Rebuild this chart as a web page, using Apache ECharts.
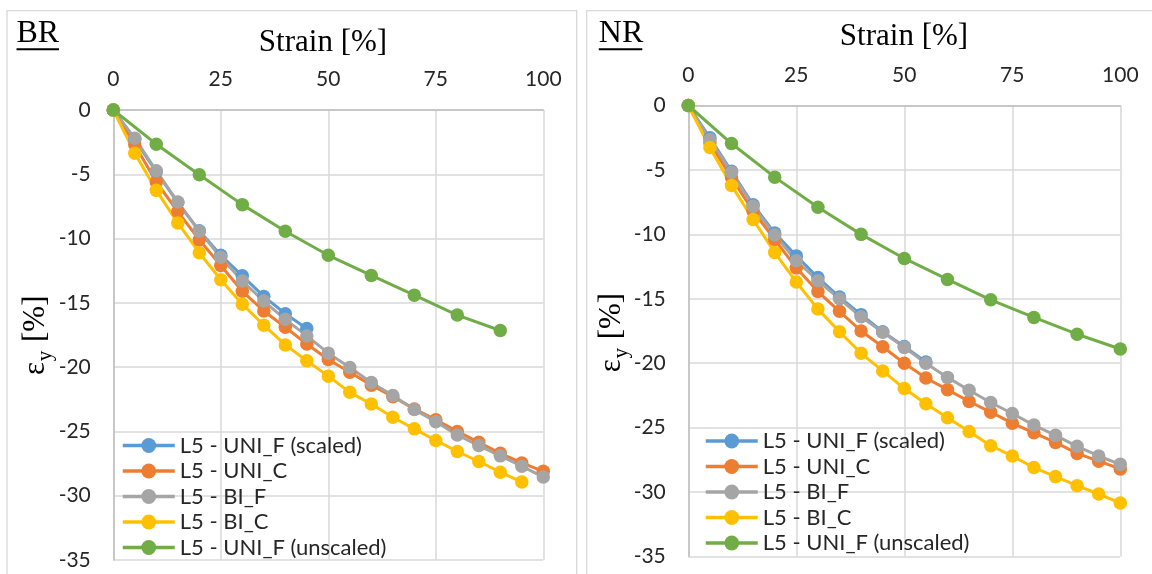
<!DOCTYPE html>
<html>
<head>
<meta charset="utf-8">
<title>Lateral strain vs. applied strain</title>
<script src="https://cdn.jsdelivr.net/npm/echarts@6/dist/echarts.min.js"></script>
<style>
  html, body { margin: 0; padding: 0; background: #ffffff; }
  #chart { width: 1152px; height: 574px; }
</style>
</head>
<body>
<div id="chart"></div>
<script>
// Applied strain [%] sampling
const strainFine = [0, 5, 10, 15, 20, 25, 30, 35, 40, 45, 50, 55, 60, 65, 70, 75, 80, 85, 90, 95, 100];
const strainCoarse = [0, 10, 20, 30, 40, 50, 60, 70, 80, 90, 100];

const xTicks = [0, 25, 50, 75, 100];
const yTicks = [0, -5, -10, -15, -20, -25, -30, -35];

const seriesNames = ['L5 - UNI_F (scaled)', 'L5 - UNI_C', 'L5 - BI_F', 'L5 - BI_C', 'L5 - UNI_F (unscaled)'];
const seriesColors = ['#5B9BD5', '#ED7D31', '#A5A5A5', '#FFC000', '#70AD47'];
// the unscaled UNI_F curve is sampled every 10 %, all others every 5 %
const seriesStrain = [strainFine, strainFine, strainFine, strainFine, strainCoarse];

// BR : lateral strain eps_y [%]
const brUniFScaled = [0, -2.3, -4.8, -7.2, -9.4, -11.3, -12.9, -14.5, -15.85, -17.0];
const brUniC = [0, -2.7, -5.6, -7.9, -10.1, -12.1, -14.1, -15.63, -16.9, -18.2, -19.4, -20.4, -21.4, -22.3, -23.25, -24.1, -25.0, -25.85, -26.7, -27.45, -28.1];
const brBiF = [0, -2.2, -4.73, -7.16, -9.43, -11.45, -13.3, -14.86, -16.28, -17.57, -18.91, -20.03, -21.19, -22.2, -23.3, -24.24, -25.27, -26.1, -26.9, -27.7, -28.55];
const brBiC = [0, -3.36, -6.25, -8.78, -11.1, -13.2, -15.1, -16.74, -18.27, -19.5, -20.7, -21.96, -22.87, -23.9, -24.8, -25.7, -26.56, -27.34, -28.17, -28.94];
const brUniFUnscaled = [0, -2.66, -5.04, -7.36, -9.43, -11.3, -12.87, -14.4, -15.95, -17.15];

// NR : lateral strain eps_y [%]
const nrUniFScaled = [0, -2.5, -5.1, -7.7, -9.9, -11.67, -13.35, -14.87, -16.23, -17.56, -18.7, -19.9];
const nrUniC = [0, -2.9, -5.6, -8.2, -10.4, -12.6, -14.44, -15.97, -17.5, -18.72, -20.0, -21.15, -22.05, -22.97, -23.8, -24.65, -25.4, -26.15, -27.0, -27.6, -28.2];
const nrBiF = [0, -2.64, -5.18, -7.82, -10.05, -12.05, -13.6, -15.0, -16.4, -17.6, -18.77, -20.0, -21.1, -22.1, -23.05, -23.9, -24.8, -25.6, -26.45, -27.2, -27.85];
const nrBiC = [0, -3.26, -6.2, -8.85, -11.4, -13.7, -15.8, -17.56, -19.23, -20.6, -21.97, -23.15, -24.23, -25.3, -26.4, -27.2, -28.1, -28.8, -29.5, -30.15, -30.85];
const nrUniFUnscaled = [0, -2.95, -5.56, -7.9, -10.0, -11.87, -13.5, -15.08, -16.45, -17.75, -18.9];

const SANS = 'Lato, "Open Sans", sans-serif';
const SERIF = '"Liberation Serif", "Times New Roman", serif';

function pairs(xs, ys) {
  return ys.map((v, i) => [xs[i], v]);
}

const panels = [
  { title: 'BR', sets: [brUniFScaled, brUniC, brBiF, brBiC, brUniFUnscaled],
    grid: { left: 113.3, top: 110, width: 430, height: 450 },
    legend: { left: 121, top: 433 } },
  { title: 'NR', sets: [nrUniFScaled, nrUniC, nrBiF, nrBiC, nrUniFUnscaled],
    grid: { left: 688.3, top: 105.5, width: 432, height: 451 },
    legend: { left: 704, top: 428.5 } }
];

const grids = [], xAxes = [], yAxes = [], series = [], legends = [];

panels.forEach((p, k) => {
  grids.push(Object.assign({ containLabel: false }, p.grid));
  xAxes.push({
    type: 'value', gridIndex: k, position: 'top',
    min: xTicks[0], max: xTicks[xTicks.length - 1], interval: xTicks[1] - xTicks[0],
    axisLine: { show: true, onZero: false, lineStyle: { color: '#BFBFBF', width: 1.5 } },
    axisTick: { show: false },
    axisLabel: { color: '#262626', fontFamily: SANS, fontSize: 21, margin: 20 },
    splitLine: { show: true, lineStyle: { color: '#D9D9D9', width: 1.5 } }
  });
  yAxes.push({
    type: 'value', gridIndex: k,
    min: yTicks[yTicks.length - 1], max: yTicks[0], interval: yTicks[0] - yTicks[1],
    axisLine: { show: true, onZero: false, lineStyle: { color: '#BFBFBF', width: 1.5 } },
    axisTick: { show: false },
    axisLabel: { color: '#262626', fontFamily: SANS, fontSize: 21, margin: 22.5 },
    splitLine: { show: true, lineStyle: { color: '#D9D9D9', width: 1.5 } }
  });
  p.sets.forEach((vals, s) => {
    series.push({
      name: seriesNames[s], type: 'line', xAxisIndex: k, yAxisIndex: k,
      data: pairs(seriesStrain[s], vals),
      symbol: 'circle', symbolSize: 13.5, showSymbol: true,
      color: seriesColors[s],
      lineStyle: { width: 3, color: seriesColors[s] },
      itemStyle: { color: seriesColors[s] },
      emphasis: { disabled: true },
      silent: true
    });
  });
  legends.push({
    orient: 'vertical', left: p.legend.left, top: p.legend.top, padding: 0,
    data: seriesNames, itemWidth: 52, itemHeight: 18.5, itemGap: 0.5,
    lineStyle: { width: 3.5 },
    textStyle: { fontFamily: SANS, fontSize: 22, color: '#262626', lineHeight: 25 },
    selectedMode: false
  });
});

// panel frames, titles and axis captions (texts are centred on their cap height)
function panelGraphics(frameX, frameW, title, titleX, titleW, titleMid, capCx, capMid, yNameX, yNameCy) {
  return [
    { type: 'rect', shape: { x: frameX, y: 10.7, width: frameW, height: 600 },
      style: { fill: null, stroke: '#D9D9D9', lineWidth: 1.3 }, silent: true },
    { type: 'text', x: titleX, y: titleMid,
      style: { text: title, font: '32px ' + SERIF, fill: '#000', textAlign: 'left', textVerticalAlign: 'middle' } },
    { type: 'rect', shape: { x: titleX, y: 48.3, width: titleW, height: 2 }, style: { fill: '#000' } },
    { type: 'text', x: capCx, y: capMid,
      style: { text: 'Strain [%]', font: '31px ' + SERIF, fill: '#000', textAlign: 'center', textVerticalAlign: 'middle' } },
    { type: 'group', x: yNameX, y: yNameCy, rotation: Math.PI / 2, children: [
      { type: 'text', x: -39, y: -10.5,
        style: { text: 'ε', font: '31px ' + SERIF, fill: '#000', textAlign: 'left', textVerticalAlign: 'middle' } },
      { type: 'text', x: -25.2, y: -1,
        style: { text: 'y', font: '21px ' + SERIF, fill: '#000', textAlign: 'left', textVerticalAlign: 'middle' } },
      { type: 'text', x: -6, y: -10.5,
        style: { text: '[%]', font: '31px ' + SERIF, fill: '#000', textAlign: 'left', textVerticalAlign: 'middle' } }
    ] }
  ];
}

const chart = echarts.init(document.getElementById('chart'), null, { renderer: 'canvas' });
chart.setOption({
  backgroundColor: '#ffffff',
  animation: false,
  grid: grids,
  xAxis: xAxes,
  yAxis: yAxes,
  legend: legends,
  series: series,
  graphic: [].concat(
    panelGraphics(7, 569.7, 'BR', 16.5, 42.5, 33.3, 323, 42.5, 46, 336),
    panelGraphics(586.7, 600, 'NR', 598.8, 43.5, 33.3, 904, 36.7, 622, 333.3)
  )
});
</script>
</body>
</html>
